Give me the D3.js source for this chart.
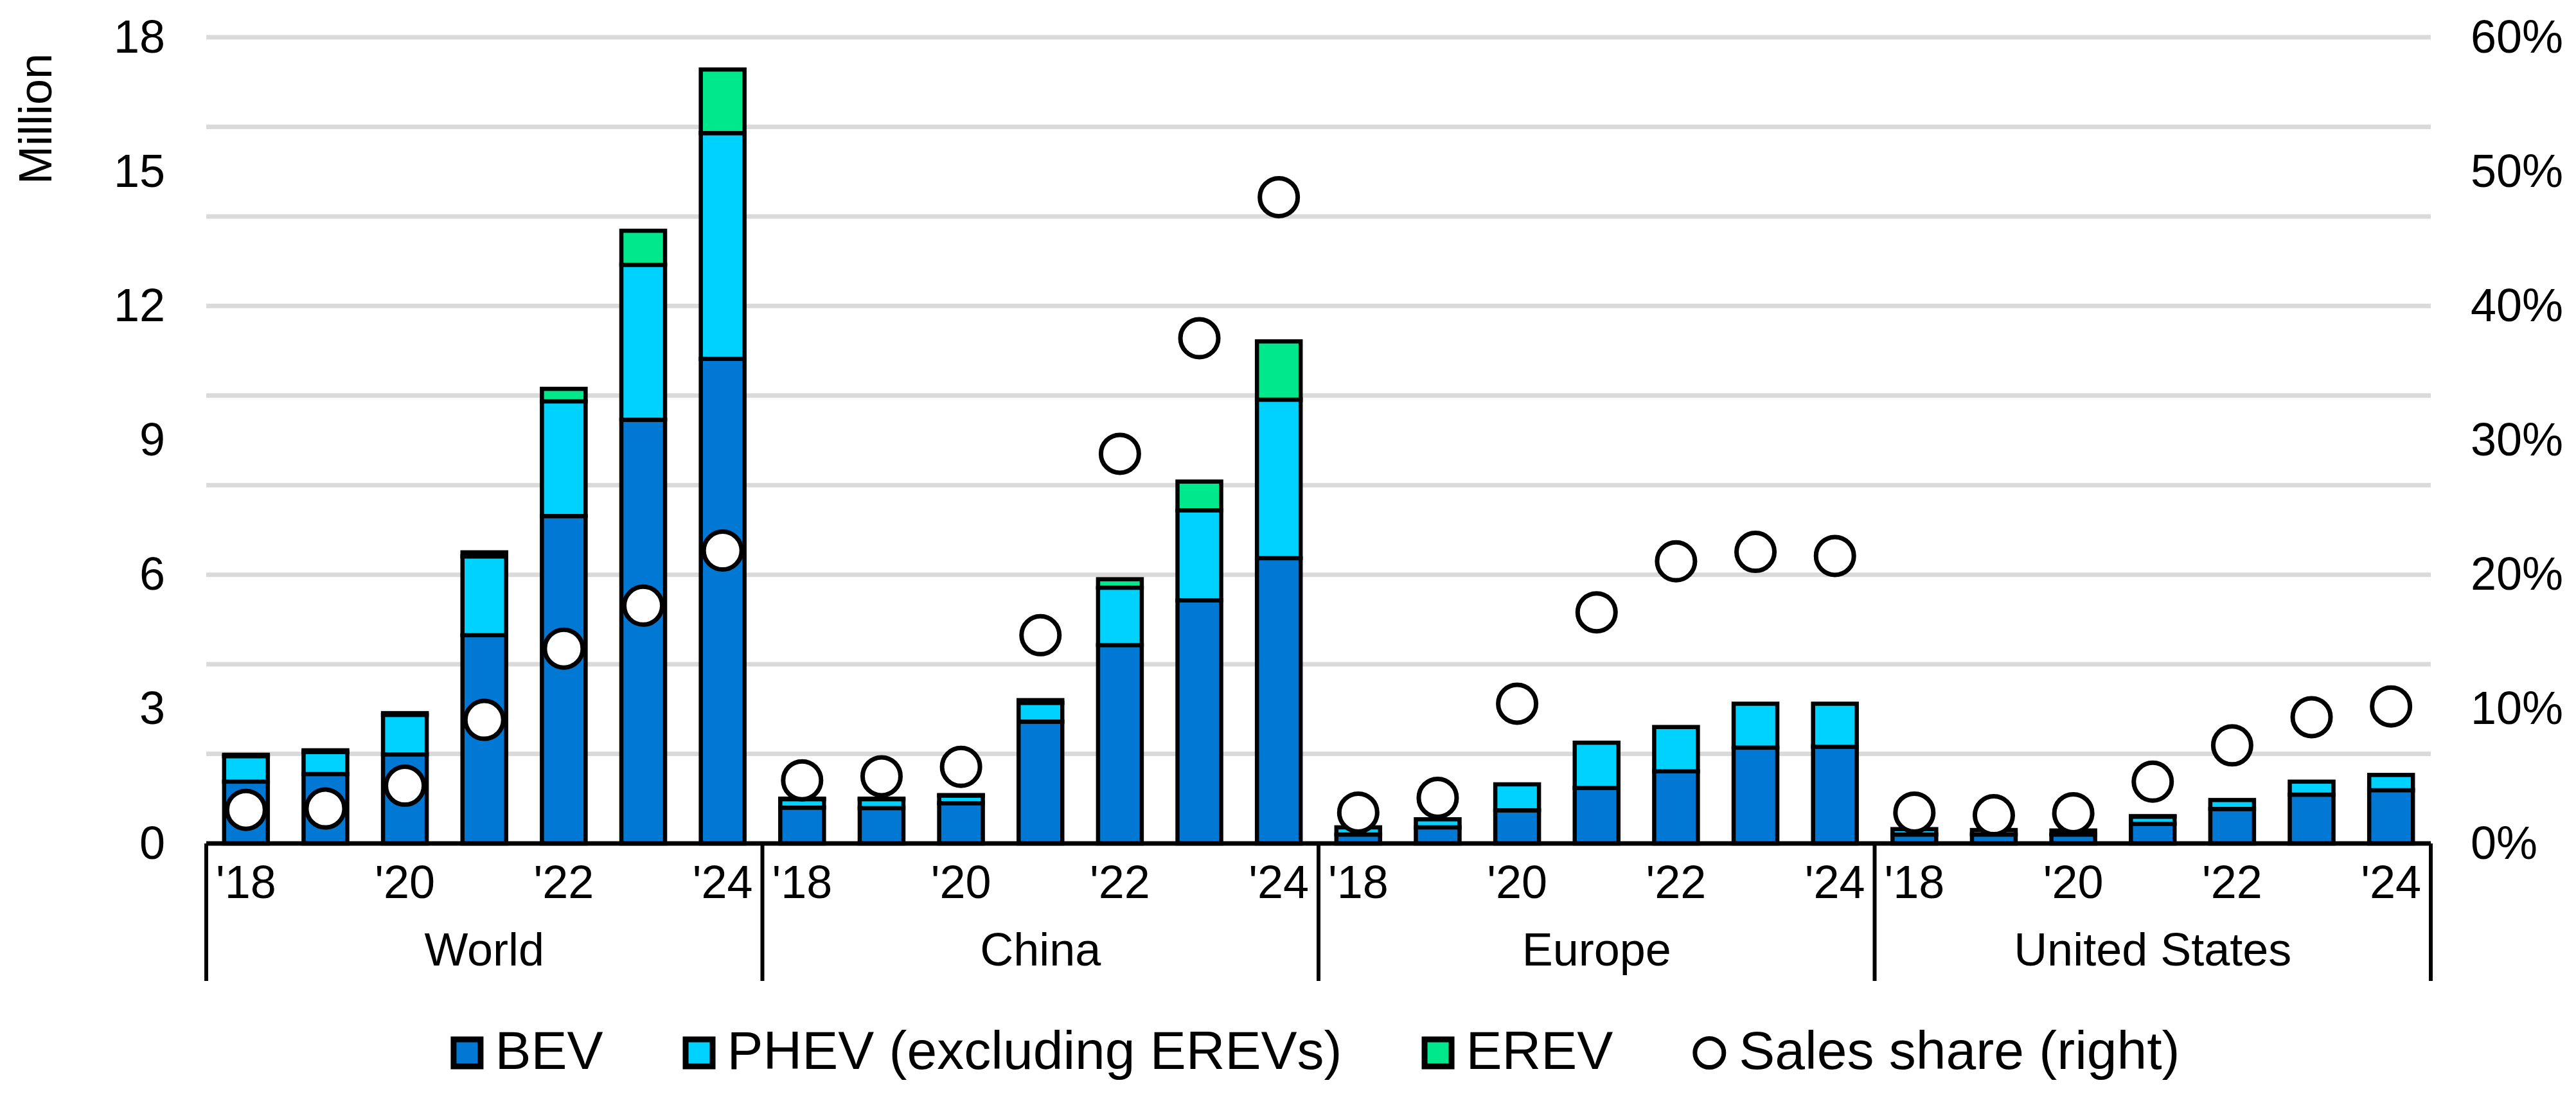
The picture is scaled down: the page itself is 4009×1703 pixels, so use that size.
<!DOCTYPE html>
<html>
<head>
<meta charset="utf-8">
<script src="https://cdn.jsdelivr.net/npm/d3@7"></script>
<style>
  body { margin: 0; background: #fff; }
  svg { display: block; font-family: "Liberation Sans", Arial, sans-serif; }
</style>
</head>
<body>
<svg id="chart" width="4009" height="1703"></svg>
<script>
// data (million vehicles, share as fraction)
const regions = ['World', 'China', 'Europe', 'United States'];
const years = ['2018', '2019', '2020', '2021', '2022', '2023', '2024'];
const yearLabels = ["'18", '', "'20", '', "'22", '', "'24"];
const keys = ['BEV', 'PHEV', 'EREV'];
const legendLabels = ['BEV', 'PHEV (excluding EREVs)', 'EREV', 'Sales share (right)'];

const bev = [
  [1.38, 1.55, 1.99, 4.65, 7.31, 9.46, 10.82],
  [0.80, 0.79, 0.90, 2.72, 4.43, 5.43, 6.37],
  [0.20, 0.36, 0.74, 1.24, 1.61, 2.14, 2.16],
  [0.20, 0.20, 0.20, 0.44, 0.77, 1.09, 1.19],
];
const phev = [
  [0.57, 0.49, 0.88, 1.76, 2.56, 3.46, 5.04],
  [0.19, 0.20, 0.17, 0.42, 1.28, 2.01, 3.54],
  [0.16, 0.18, 0.58, 1.01, 0.99, 0.98, 0.96],
  [0.12, 0.10, 0.09, 0.16, 0.20, 0.29, 0.34],
];
const erev = [
  [0.03, 0.04, 0.04, 0.09, 0.28, 0.76, 1.42],
  [0.01, 0.01, 0.01, 0.06, 0.19, 0.64, 1.30],
  [0, 0, 0, 0, 0, 0, 0],
  [0, 0, 0, 0.01, 0, 0, 0],
];
const share = [
  [0.025, 0.026, 0.043, 0.092, 0.145, 0.177, 0.218],
  [0.047, 0.050, 0.057, 0.155, 0.290, 0.376, 0.481],
  [0.023, 0.034, 0.104, 0.172, 0.210, 0.217, 0.214],
  [0.023, 0.021, 0.0225, 0.046, 0.073, 0.094, 0.102],
];

const colors = { BEV: '#0078D4', PHEV: '#00D2FF', EREV: '#00E88C' };

let rows = [];
regions.forEach((r, i) => {
  years.forEach((yr, j) => {
    rows.push({ region: r, year: yr, BEV: bev[i][j], PHEV: phev[i][j], EREV: erev[i][j], share: share[i][j] });
  });
});

const svg = d3.select('#chart');
const plotLeft = 321, plotRight = 3783, plotBase = 1313, plotTop = 58;

let xGroup = d3.scaleBand().domain(regions).range([plotLeft, plotRight]);
let xYear = d3.scaleBand().domain(years).range([0, xGroup.bandwidth()])
  .paddingInner(0.45).paddingOuter(0.225);
let y = d3.scaleLinear().domain([0, 18]).range([plotBase, plotTop]);
let y2 = d3.scaleLinear().domain([0, 0.6]).range([plotBase, plotTop]);

// gridlines
svg.append('g')
  .selectAll('line')
  .data(y.ticks(6).filter(d => d > 0))
  .join('line')
  .attr('x1', plotLeft).attr('x2', plotRight)
  .attr('y1', d => y(d)).attr('y2', d => y(d))
  .attr('stroke', '#DADADA')
  .attr('stroke-width', 7);

// left axis
let leftAxis = svg.append('g')
  .attr('transform', `translate(${plotLeft},0)`)
  .call(d3.axisLeft(y).tickValues(d3.range(0, 19, 3)).tickSize(0).tickPadding(64));
leftAxis.select('.domain').remove();
leftAxis.selectAll('text').attr('font-size', 72).attr('font-family', null).attr('fill', '#000');

// right axis
let rightAxis = svg.append('g')
  .attr('transform', `translate(${plotRight},0)`)
  .call(d3.axisRight(y2).tickValues(d3.range(0, 0.61, 0.1)).tickFormat(d3.format('.0%')).tickSize(0).tickPadding(62));
rightAxis.select('.domain').remove();
rightAxis.selectAll('text').attr('font-size', 72).attr('font-family', null).attr('fill', '#000');

// y title
svg.append('text')
  .attr('transform', 'translate(80,185) rotate(-90)')
  .attr('text-anchor', 'middle')
  .attr('font-size', 72)
  .text('Million');

// stacked bars
let series = d3.stack().keys(keys)(rows);
svg.append('g')
  .selectAll('g')
  .data(series)
  .join('g')
  .attr('fill', d => colors[d.key])
  .selectAll('rect')
  .data(d => d.filter(s => s[1] - s[0] > 0))
  .join('rect')
  .attr('x', d => xGroup(d.data.region) + xYear(d.data.year))
  .attr('width', xYear.bandwidth())
  .attr('y', d => y(d[1]))
  .attr('height', d => y(d[0]) - y(d[1]))
  .attr('stroke', '#000')
  .attr('stroke-width', 6.5);

// sales share circles
svg.append('g')
  .selectAll('circle')
  .data(rows)
  .join('circle')
  .attr('cx', d => xGroup(d.region) + xYear(d.year) + xYear.bandwidth() / 2)
  .attr('cy', d => y2(d.share))
  .attr('r', 29.5)
  .attr('fill', '#fff')
  .attr('stroke', '#000')
  .attr('stroke-width', 7);

// category axis: base line, dividers, labels
const boxBottom = 1527;
svg.append('line')
  .attr('x1', plotLeft).attr('x2', plotRight)
  .attr('y1', plotBase).attr('y2', plotBase)
  .attr('stroke', '#000').attr('stroke-width', 7);

let bounds = regions.map(r => xGroup(r)).concat([plotRight]);
svg.append('g')
  .selectAll('line')
  .data(bounds)
  .join('line')
  .attr('x1', d => d).attr('x2', d => d)
  .attr('y1', plotBase).attr('y2', boxBottom)
  .attr('stroke', '#000').attr('stroke-width', 6);

let groups = svg.append('g')
  .selectAll('g')
  .data(regions)
  .join('g')
  .attr('transform', d => `translate(${xGroup(d)},0)`);

groups.selectAll('text.yr')
  .data(years.map((yr, i) => ({ yr, label: yearLabels[i] })).filter(d => d.label))
  .join('text')
  .attr('class', 'yr')
  .attr('x', d => xYear(d.yr) + xYear.bandwidth() / 2)
  .attr('y', 1398)
  .attr('text-anchor', 'middle')
  .attr('font-size', 72)
  .text(d => d.label);

groups.append('text')
  .attr('x', xGroup.bandwidth() / 2)
  .attr('y', 1503)
  .attr('text-anchor', 'middle')
  .attr('font-size', 72)
  .text(d => d);

// legend
const legY = 1639, legBase = 1664;
let legend = svg.append('g');
let items = legend.selectAll('g')
  .data(legendLabels)
  .join('g');

items.each(function (d, i) {
  let g = d3.select(this);
  if (i < 3) {
    g.append('rect')
      .attr('x', 4.5).attr('y', legY - 21)
      .attr('width', 42).attr('height', 42)
      .attr('fill', colors[keys[i]])
      .attr('stroke', '#000').attr('stroke-width', 9);
  } else {
    g.append('circle')
      .attr('cx', 26).attr('cy', legY)
      .attr('r', 22.5)
      .attr('fill', '#fff')
      .attr('stroke', '#000').attr('stroke-width', 7);
  }
  g.append('text')
    .attr('x', i < 3 ? 69 : 72)
    .attr('y', legBase)
    .attr('font-size', 84)
    .text(d);
});

let widths = [];
items.each(function () {
  widths.push(d3.select(this).select('text').node().getComputedTextLength());
});
const gap = 124;
let total = 0;
widths.forEach((w, i) => { total += (i < 3 ? 69 : 72) + w + (i < 3 ? gap : 0); });
let xPos = 2047 - total / 2;
items.attr('transform', (d, i) => {
  let t = `translate(${xPos},0)`;
  xPos += (i < 3 ? 69 : 72) + widths[i] + gap;
  return t;
});
</script>
</body>
</html>
